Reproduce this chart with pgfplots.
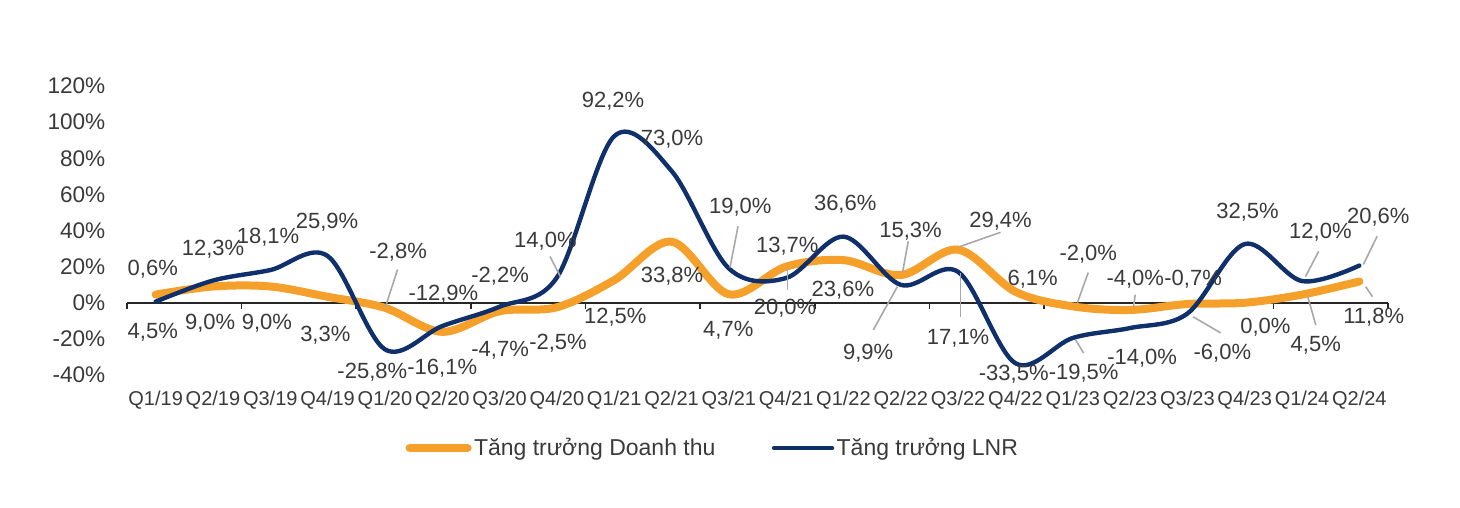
\documentclass[border=0pt]{standalone}
\usepackage{pgfplots}
\pgfplotsset{compat=1.18}
\usepackage{pgfplotstable}
\usepackage{fontspec}
\setmainfont{Liberation Sans}
\definecolor{rev}{HTML}{F5A02A}
\definecolor{lnr}{HTML}{10306B}
\definecolor{txt}{HTML}{3A3A3A}
\definecolor{lead}{HTML}{A8A8A8}

\pgfplotstableread{
x y
0 4.5
1 9.0
2 9.0
3 3.3
4 -2.8
5 -16.1
6 -4.7
7 -2.5
8 12.5
9 33.8
10 4.7
11 20.0
12 23.6
13 15.3
14 29.4
15 6.1
16 -2.0
17 -4.0
18 -0.7
19 0.0
20 4.5
21 11.8
}\revtable

\pgfplotstableread{
x y
0 0.6
1 12.3
2 18.1
3 25.9
4 -25.8
5 -12.9
6 -2.2
7 14.0
8 92.2
9 73.0
10 19.0
11 13.7
12 36.6
13 9.9
14 17.1
15 -33.5
16 -19.5
17 -14.0
18 -6.0
19 32.5
20 12.0
21 20.6
}\lnrtable

\pgfplotstableread{
x y t
-0.05 18.4 0,6
1.00 29.5 12,3
1.96 36.2 18,1
2.99 44.6 25,9
3.78 -38.4 -25,8
5.02 4.5 -12,9
6.01 14.5 -2,2
6.80 34.0 14,0
7.98 111.4 92,2
9.01 90.8 73,0
10.20 52.9 19,0
11.02 31.2 13,7
12.03 54.6 36,6
12.43 -27.9 9,9
14.00 -19.5 17,1
14.97 -39.6 -33,5
16.19 -39.0 -19,5
17.21 -30.6 -14,0
18.61 -27.9 -6,0
19.05 50.1 32,5
20.32 39.0 12,0
21.33 47.3 20,6
-0.05 -16.2 4,5
0.95 -11.1 9,0
1.94 -11.1 9,0
2.96 -17.8 3,3
4.23 27.9 -2,8
5.00 -36.2 -16,1
6.01 -26.2 -4,7
7.02 -22.3 -2,5
8.02 -7.8 12,5
9.01 14.5 33,8
9.99 -15.0 4,7
10.98 -2.8 20,0
11.99 7.2 23,6
13.17 39.5 15,3
14.74 45.1 29,4
15.30 12.8 6,1
16.27 26.7 -2,0
17.09 12.8 -4,0
18.10 12.8 -0,7
19.36 -13.4 0,0
20.24 -23.4 4,5
21.25 -7.8 11,8
}\labtable

\begin{document}
\begin{tikzpicture}
\path[use as bounding box] (0,0) rectangle (730pt,254pt);
\begin{axis}[
  at={(63.5pt,66.5pt)}, anchor=south west,
  scale only axis, width=630.5pt, height=144.5pt,
  xmin=-0.5, xmax=21.5, ymin=-40, ymax=120,
  clip=false,
  axis line style={draw=none},
  major tick length=0pt,
  xtick={0,...,21},
  xticklabels={Q1/19,Q2/19,Q3/19,Q4/19,Q1/20,Q2/20,Q3/20,Q4/20,Q1/21,Q2/21,Q3/21,Q4/21,Q1/22,Q2/22,Q3/22,Q4/22,Q1/23,Q2/23,Q3/23,Q4/23,Q1/24,Q2/24},
  x tick label style={font=\fontsize{10}{12}\selectfont, text=txt, yshift=-4.5pt},
  ytick={-40,-20,...,120},
  yticklabels={-40\%,-20\%,0\%,20\%,40\%,60\%,80\%,100\%,120\%},
  y tick label style={font=\fontsize{11.3}{13}\selectfont, text=txt, xshift=-7.3pt},
  legend style={at={(0.4647,-0.2526)}, anchor=center, legend columns=2, draw=none, fill=none,
    font=\fontsize{11.5}{14}\selectfont, text=txt,
    nodes={inner sep=1.2pt},
    /tikz/every even column/.append style={column sep=27pt}},
  legend image code/.code={\draw[#1] (0pt,0pt) -- (29pt,0pt);},
]
\draw[black!85, line width=0.8pt] (axis cs:-0.5,0) -- (axis cs:21.5,0);
\draw[black!85, line width=0.8pt] (axis cs:-0.5,0) -- ([yshift=-3pt]axis cs:-0.5,0);
\draw[black!85, line width=0.8pt] (axis cs:1.5,0) -- ([yshift=-3pt]axis cs:1.5,0);
\draw[black!85, line width=0.8pt] (axis cs:3.5,0) -- ([yshift=-3pt]axis cs:3.5,0);
\draw[black!85, line width=0.8pt] (axis cs:5.5,0) -- ([yshift=-3pt]axis cs:5.5,0);
\draw[black!85, line width=0.8pt] (axis cs:7.5,0) -- ([yshift=-3pt]axis cs:7.5,0);
\draw[black!85, line width=0.8pt] (axis cs:9.5,0) -- ([yshift=-3pt]axis cs:9.5,0);
\draw[black!85, line width=0.8pt] (axis cs:11.5,0) -- ([yshift=-3pt]axis cs:11.5,0);
\draw[black!85, line width=0.8pt] (axis cs:13.5,0) -- ([yshift=-3pt]axis cs:13.5,0);
\draw[black!85, line width=0.8pt] (axis cs:15.5,0) -- ([yshift=-3pt]axis cs:15.5,0);
\draw[black!85, line width=0.8pt] (axis cs:17.5,0) -- ([yshift=-3pt]axis cs:17.5,0);
\draw[black!85, line width=0.8pt] (axis cs:19.5,0) -- ([yshift=-3pt]axis cs:19.5,0);
\draw[black!85, line width=0.8pt] (axis cs:21.5,0) -- ([yshift=-3pt]axis cs:21.5,0);

\addplot[rev, line width=4pt, line cap=round, smooth, tension=0.55, mark=none] table[x=x,y=y] {\revtable};
\addlegendentry{Tăng trưởng Doanh thu}
\addplot[lnr, line width=2.2pt, line cap=round, smooth, tension=0.55, mark=none] table[x=x,y=y] {\lnrtable};
\addlegendentry{Tăng trưởng LNR}

\draw[lead, line width=0.8pt] (axis cs:4.22,18.4) -- (axis cs:4.01,-2.2);
\draw[lead, line width=0.8pt] (axis cs:6.88,25.6) -- (axis cs:7.06,14.5);
\draw[lead, line width=0.8pt] (axis cs:10.16,42.3) -- (axis cs:10.02,19.5);
\draw[lead, line width=0.8pt] (axis cs:11.02,7.2) -- (axis cs:11.02,19.5);
\draw[lead, line width=0.8pt] (axis cs:13.13,34.0) -- (axis cs:13.03,16.7);
\draw[lead, line width=0.8pt] (axis cs:12.52,-15.0) -- (axis cs:12.94,8.9);
\draw[lead, line width=0.8pt] (axis cs:14.04,-7.8) -- (axis cs:14.04,16.7);
\draw[lead, line width=0.8pt] (axis cs:14.74,39.0) -- (axis cs:14.04,31.2);
\draw[lead, line width=0.8pt] (axis cs:16.27,16.7) -- (axis cs:16.08,0);
\draw[lead, line width=0.8pt] (axis cs:16.19,-27.9) -- (axis cs:16.05,-20.6);
\draw[lead, line width=0.8pt] (axis cs:17.09,4.5) -- (axis cs:17.06,-2.2);
\draw[lead, line width=0.8pt] (axis cs:18.58,-16.7) -- (axis cs:18.10,-7.8);
\draw[lead, line width=0.8pt] (axis cs:20.29,28.4) -- (axis cs:20.06,14.5);
\draw[lead, line width=0.8pt] (axis cs:20.24,-12.3) -- (axis cs:20.10,3.3);
\draw[lead, line width=0.8pt] (axis cs:21.31,36.8) -- (axis cs:21.07,21.2);
\draw[lead, line width=0.8pt] (axis cs:21.23,3.3) -- (axis cs:21.11,8.9);

\addplot[draw=none, mark=none, forget plot,
  nodes near coords={\pgfplotspointmeta\%},
  point meta=explicit symbolic,
  every node near coord/.append style={anchor=center, inner sep=0pt, text=txt, font=\fontsize{11}{13}\selectfont},
] table[x=x,y=y,meta=t] {\labtable};
\end{axis}
\end{tikzpicture}
\end{document}
